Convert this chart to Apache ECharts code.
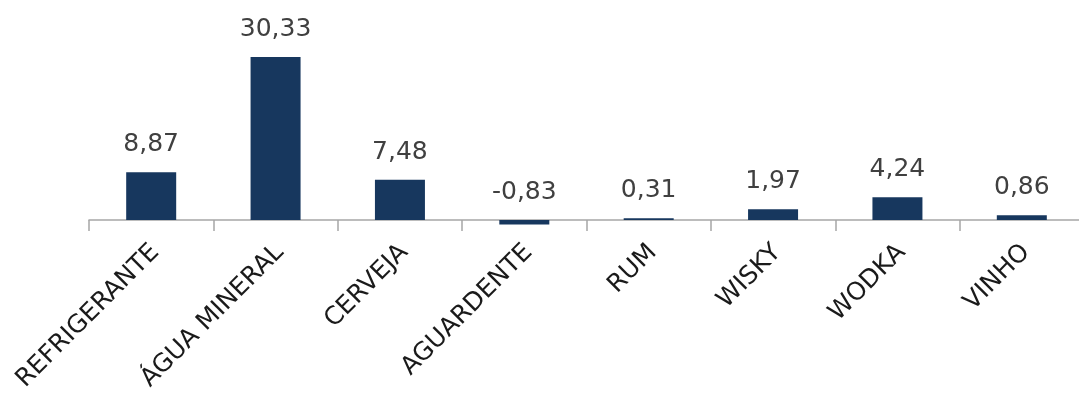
<!DOCTYPE html>
<html>
<head>
<meta charset="utf-8">
<script src="https://cdn.jsdelivr.net/npm/echarts@6/dist/echarts.min.js"></script>
<style>
  html, body { margin: 0; padding: 0; background: #fff; }
  #chart { width: 1079px; height: 394px; }
</style>
</head>
<body>
<div id="chart"></div>
<script>
var categorias = ['REFRIGERANTE', 'ÁGUA MINERAL', 'CERVEJA', 'AGUARDENTE', 'RUM', 'WISKY', 'WODKA', 'VINHO'];
var valores = [8.87, 30.33, 7.48, -0.83, 0.31, 1.97, 4.24, 0.86];

var myChart = echarts.init(document.getElementById('chart'));
var option = {
  animation: false,
  grid: {
    left: 89,
    width: 995,
    top: 32,
    height: 214.8,
    containLabel: false,
    outerBoundsMode: 'none'
  },
  xAxis: {
    type: 'category',
    data: categorias,
    axisLine: { show: true, onZero: true, lineStyle: { color: '#a6a6a6', width: 1.5 } },
    axisTick: { show: true, length: 11, lineStyle: { color: '#a6a6a6', width: 1.5 } },
    axisLabel: {
      interval: 0,
      rotate: 45,
      margin: 6,
      padding: [0, -6, 0, 0],
      color: '#1a1a1a',
      fontFamily: 'DejaVu Sans',
      fontSize: 25
    }
  },
  yAxis: {
    type: 'value',
    min: -5,
    max: 35,
    show: false,
    splitLine: { show: false }
  },
  series: [{
    type: 'bar',
    data: valores,
    barWidth: 50,
    itemStyle: { color: '#17375e' },
    label: {
      show: true,
      position: 'top',
      distance: 15,
      color: '#404040',
      fontFamily: 'DejaVu Sans',
      fontSize: 25,
      formatter: function (p) {
        return p.value.toFixed(2).replace('.', ',');
      }
    }
  }]
};
myChart.setOption(option);
window.addEventListener('resize', function () {
  myChart.resize();
});
</script>
</body>
</html>
